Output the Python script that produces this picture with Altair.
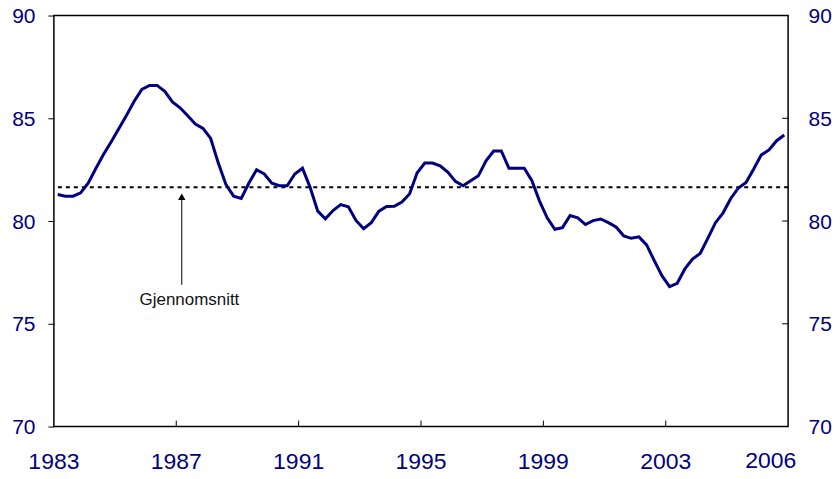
import altair as alt
import pandas as pd

# Quarterly series 1983Q1 - 2006Q4
values = [
    81.29, 81.21, 81.21, 81.37, 81.85, 82.57, 83.25, 83.86,   # 1983-1984
    84.50, 85.15, 85.83, 86.41, 86.60, 86.60, 86.31, 85.80,   # 1985-1986
    85.51, 85.12, 84.72, 84.51, 84.02, 82.82, 81.77, 81.21,   # 1987-1988
    81.10, 81.85, 82.50, 82.29, 81.84, 81.72, 81.72, 82.29,   # 1989-1990
    82.57, 81.64, 80.48, 80.11, 80.51, 80.80, 80.69, 80.03,   # 1991-1992
    79.63, 79.92, 80.48, 80.71, 80.72, 80.93, 81.32, 82.35,   # 1993-1994
    82.82, 82.82, 82.69, 82.38, 81.93, 81.72, 81.96, 82.20,   # 1995-1996
    82.93, 83.41, 83.41, 82.57, 82.57, 82.57, 81.96, 80.97,   # 1997-1998
    80.16, 79.60, 79.68, 80.27, 80.16, 79.83, 80.02, 80.10,   # 1999-2000
    79.92, 79.71, 79.28, 79.16, 79.23, 78.84, 78.07, 77.34,   # 2001-2002
    76.81, 76.97, 77.67, 78.15, 78.42, 79.16, 79.92, 80.40,   # 2003-2004
    81.10, 81.61, 81.88, 82.53, 83.22, 83.46, 83.91, 84.19,   # 2005-2006
]
quarters = [1983 + 0.125 + 0.25 * i for i in range(len(values))]

average = [81.65]
x_label_text = ["1983", "1987", "1991", "1995", "1999", "2003"]
x_label_pos = [1983, 1987, 1991, 1995, 1999, 2003]
inner_x_ticks = [1987, 1991, 1995, 1999, 2003]
y_tick_values = [70, 75, 80, 85, 90]
inner_y_ticks = [75, 80, 85]
last_label = ["2006"]
last_label_pos = [2006.43]
annotation_text = ["Gjennomsnitt"]
annotation_pos = [1987.43]
annotation_y = [75.9]
arrow_x = [1987.18]
arrow_from = [76.9]
arrow_to = [81.1]
arrow_head = [81.18]

NAVY = "#000080"
FONT = "Liberation Sans"
W, H = 736, 412

df = pd.DataFrame({"t": quarters, "v": values})

xscale = alt.Scale(domain=[1983, 2007], nice=False, zero=False)
yscale = alt.Scale(domain=[70, 90], nice=False, zero=False)

left_axis = alt.Axis(values=y_tick_values, orient="left", tickSize=6, tickColor="black",
                     tickWidth=1, domain=False, grid=False, labelFontSize=21,
                     labelColor=NAVY, labelFont=FONT, labelPadding=13,
                     labelOffset=1, title=None)
right_axis = alt.Axis(values=y_tick_values, orient="right", ticks=False, domain=False,
                      grid=False, labelFontSize=21, labelColor=NAVY, labelFont=FONT,
                      labelPadding=20, labelOffset=1, title=None)

line = alt.Chart(df).mark_line(color=NAVY, strokeWidth=3).encode(
    x=alt.X("t:Q", scale=xscale, axis=None),
    y=alt.Y("v:Q", scale=yscale, axis=left_axis),
)

avg = alt.Chart(pd.DataFrame({"a": average})).mark_rule(
    color="black", strokeWidth=2, strokeDash=[4, 4]
).encode(y=alt.Y("a:Q", scale=yscale, axis=None))

bottom_ticks = alt.Chart(pd.DataFrame({"yr": inner_x_ticks})).mark_rule(
    color="black", strokeWidth=1
).encode(
    x=alt.X("yr:Q", scale=xscale, axis=None),
    y=alt.value(H), y2=alt.value(H - 6),
)

right_ticks = alt.Chart(pd.DataFrame({"rv": inner_y_ticks})).mark_rule(
    color="black", strokeWidth=1
).encode(
    y=alt.Y("rv:Q", scale=yscale, axis=right_axis),
    x=alt.value(W - 6), x2=alt.value(W),
)

x_labels = alt.Chart(pd.DataFrame({"x": x_label_pos, "txt": x_label_text})).mark_text(
    font=FONT, fontSize=23, color=NAVY, align="center", baseline="alphabetic"
).encode(
    x=alt.X("x:Q", scale=xscale, axis=None),
    y=alt.value(H + 43),
    text="txt:N",
)

label2006 = alt.Chart(pd.DataFrame({"x": last_label_pos, "txt": last_label})).mark_text(
    font=FONT, fontSize=23, color=NAVY, align="center", baseline="alphabetic"
).encode(
    x=alt.X("x:Q", scale=xscale, axis=None),
    y=alt.value(H + 41.5),
    text="txt:N",
)

arrow_df = pd.DataFrame({"x": arrow_x, "y": arrow_from, "y2": arrow_to, "h": arrow_head})
arrow_line = alt.Chart(arrow_df).mark_rule(color="black", strokeWidth=1).encode(
    x=alt.X("x:Q", scale=xscale, axis=None),
    y=alt.Y("y:Q", scale=yscale, axis=None),
    y2="y2:Q",
)
arrow_tip = alt.Chart(arrow_df).mark_point(
    shape="triangle-up", filled=True, color="black", size=55, opacity=1
).encode(
    x=alt.X("x:Q", scale=xscale, axis=None),
    y=alt.Y("h:Q", scale=yscale, axis=None),
)

annot = alt.Chart(pd.DataFrame({"x": annotation_pos, "y": annotation_y,
                                "txt": annotation_text})).mark_text(
    font=FONT, fontSize=17, color="#111111", align="center", baseline="alphabetic"
).encode(
    x=alt.X("x:Q", scale=xscale, axis=None),
    y=alt.Y("y:Q", scale=yscale, axis=None),
    text="txt:N",
)

chart = alt.layer(
    avg, line, bottom_ticks, right_ticks, arrow_line, arrow_tip, annot,
    x_labels, label2006
).resolve_scale(y="independent").resolve_axis(y="independent").properties(
    width=W, height=H,
    autosize=alt.AutoSizeParams(type="none"),
    padding={"left": 46, "top": 7, "right": 44, "bottom": 44},
).configure(
    background="white"
).configure_view(
    stroke="black", strokeWidth=1.5
)

chart.save("out.html", embed_options={"renderer": "svg", "actions": False})
